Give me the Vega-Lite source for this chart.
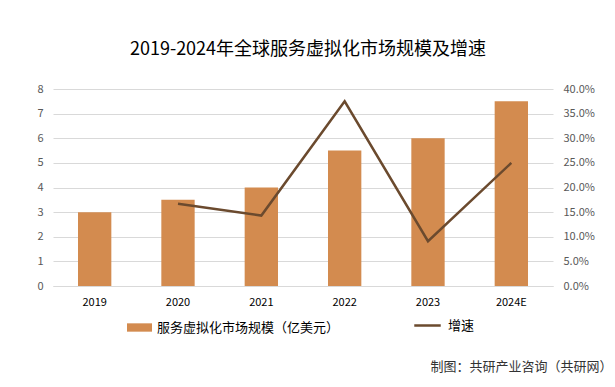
{
  "$schema": "https://vega.github.io/schema/vega-lite/v6.json",
  "width": 500,
  "height": 197,
  "autosize": {"type": "none"},
  "padding": {"left": 53, "top": 89, "right": 62, "bottom": 101},
  "background": "#ffffff",
  "config": {
    "font": "Noto Sans CJK SC",
    "view": {"stroke": null}
  },
  "title": {
    "text": "2019-2024年全球服务虚拟化市场规模及增速",
    "font": "Noto Sans CJK SC",
    "fontSize": 18,
    "fontWeight": "normal",
    "color": "#000000",
    "offset": 24,
    "dx": 5
  },
  "data": {
    "values": [
      {"year": "2019", "size": 3.0, "rate": null},
      {"year": "2020", "size": 3.5, "rate": 0.167},
      {"year": "2021", "size": 4.0, "rate": 0.143},
      {"year": "2022", "size": 5.5, "rate": 0.375},
      {"year": "2023", "size": 6.0, "rate": 0.091},
      {"year": "2024E", "size": 7.5, "rate": 0.25}
    ]
  },
  "encoding": {
    "x": {
      "field": "year",
      "type": "ordinal",
      "sort": null,
      "scale": {"paddingInner": 0.6, "paddingOuter": 0.3},
      "axis": {
        "labelAngle": 0,
        "labelFontSize": 11,
        "labelColor": "#000000",
        "labelPadding": 10,
        "ticks": false,
        "domainColor": "#D9D9D9",
        "title": "制图：共研产业咨询（共研网）",
        "titleX": 377,
        "titleY": 80,
        "titleAlign": "left",
        "titleBaseline": "middle",
        "titleFontSize": 13,
        "titleFontWeight": "normal",
        "titleColor": "#333333"
      }
    }
  },
  "layer": [
    {
      "mark": {"type": "bar", "color": "#D38B4F"},
      "encoding": {
        "y": {
          "field": "size",
          "type": "quantitative",
          "scale": {"domain": [0, 8]},
          "axis": {
            "values": [0, 1, 2, 3, 4, 5, 6, 7, 8],
            "title": null,
            "domain": false,
            "ticks": false,
            "labelPadding": 10,
            "labelFontSize": 11,
            "labelColor": "#595959",
            "gridColor": "#D9D9D9"
          }
        },
        "color": {
          "datum": "服务虚拟化市场规模（亿美元）",
          "scale": {"range": ["#D38B4F"]},
          "legend": {
            "title": null,
            "orient": "none",
            "legendX": 77,
            "legendY": 229,
            "symbolType": "M-1.5,-0.5H1.5V0.5H-1.5Z",
            "symbolSize": 278,
            "labelFontSize": 13,
            "labelLimit": 400,
            "labelColor": "#000000",
            "labelOffset": 8
          }
        }
      }
    },
    {
      "mark": {"type": "line", "strokeWidth": 2.5, "color": "#6B4A2E"},
      "encoding": {
        "y": {
          "field": "rate",
          "type": "quantitative",
          "scale": {"domain": [0, 0.4]},
          "axis": {
            "orient": "right",
            "values": [0, 0.05, 0.1, 0.15, 0.2, 0.25, 0.3, 0.35, 0.4],
            "format": ".1%",
            "title": null,
            "domain": false,
            "ticks": false,
            "grid": false,
            "labelPadding": 10,
            "labelFontSize": 11,
            "labelColor": "#595959"
          }
        },
        "stroke": {
          "datum": "增速",
          "scale": {"range": ["#6B4A2E"]},
          "legend": {
            "title": null,
            "orient": "none",
            "legendX": 360,
            "legendY": 222,
            "symbolType": "stroke",
            "symbolSize": 700,
            "symbolStrokeWidth": 2.5,
            "labelFontSize": 13,
            "labelColor": "#000000",
            "labelOffset": 6
          }
        }
      }
    }
  ],
  "resolve": {"scale": {"y": "independent", "color": "independent"}}
}
